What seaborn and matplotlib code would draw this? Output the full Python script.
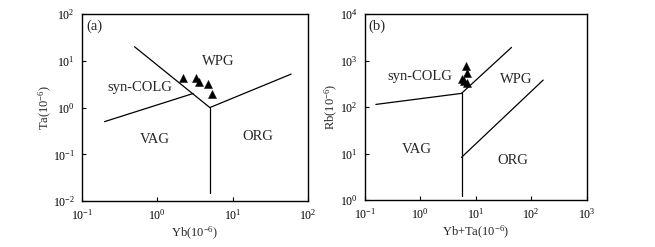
import matplotlib
matplotlib.use("Agg")
import matplotlib.pyplot as plt
import seaborn as sns
import numpy as np

sns.set_theme(style="white")
plt.rcParams['font.family'] = ['Liberation Serif', 'DejaVu Serif']
plt.rcParams['mathtext.fontset'] = 'custom'
plt.rcParams['mathtext.rm'] = 'Liberation Serif'
plt.rcParams['mathtext.it'] = 'Liberation Serif:italic'

# ---- Panel (a): Ta vs Yb ----
a_yb = [2.17, 3.27, 3.58, 4.76, 5.27]
a_ta = [4.2, 4.33, 3.56, 3.13, 1.92]
a_bound_wpg_x = [0.5, 5.0]
a_bound_wpg_y = [20.0, 1.0]
a_bound_vag_x = [0.2, 3.0]
a_bound_vag_y = [0.5, 2.0]
a_bound_org_x = [5.0, 60.0]
a_bound_org_y = [1.0, 5.2]
a_bound_vert_x = [5.0, 5.0]
a_bound_vert_y = [1.0, 0.0148]
a_labels = ["WPG", "syn-COLG", "VAG", "ORG"]
a_label_x = [6.4, 0.59, 0.93, 21.9]
a_label_y = [9.9, 2.7, 0.21, 0.245]
a_xticks = [0.1, 1, 10, 100]
a_xticklabels = [r"$10^{-1}$", r"$10^{0}$", r"$10^{1}$", r"$10^{2}$"]
a_yticks = [0.01, 0.1, 1, 10, 100]
a_yticklabels = [r"$10^{-2}$", r"$10^{-1}$", r"$10^{0}$", r"$10^{1}$", r"$10^{2}$"]

# ---- Panel (b): Rb vs Yb+Ta ----
b_ybta = [6.65, 7.03, 5.56, 6.12, 7.03]
b_rb = [773, 538, 400, 362, 324]
b_bound_vag_x = [0.158, 5.55]
b_bound_vag_y = [114, 197]
b_bound_vert_x = [5.55, 5.55]
b_bound_vert_y = [197, 1.22]
b_bound_wpg_x = [5.55, 44.3]
b_bound_wpg_y = [197, 1920]
b_bound_org_x = [5.55, 165]
b_bound_org_y = [8.3, 381]
b_labels = ["syn-COLG", "WPG", "VAG", "ORG"]
b_label_x = [0.98, 54.7, 0.86, 47.5]
b_label_y = [449, 394, 12.5, 7.0]
b_xticks = [0.1, 1, 10, 100, 1000]
b_xticklabels = [r"$10^{-1}$", r"$10^{0}$", r"$10^{1}$", r"$10^{2}$", r"$10^{3}$"]
b_yticks = [1, 10, 100, 1000, 10000]
b_yticklabels = [r"$10^{0}$", r"$10^{1}$", r"$10^{2}$", r"$10^{3}$", r"$10^{4}$"]

fig = plt.figure(figsize=(6.55, 2.47), dpi=100)
ax1 = fig.add_axes([0.125, 0.186, 0.345, 0.757])
ax2 = fig.add_axes([0.557, 0.190, 0.3385, 0.753])

LABEL_FS = 10.5
AXIS_FS = 9
TICK_FS = 8.5

def style(ax, xt, xtl, yt, ytl, xlim, ylim):
    ax.set_xscale('log')
    ax.set_yscale('log')
    ax.set_xlim(*xlim)
    ax.set_ylim(*ylim)
    ax.set_xticks(xt)
    ax.set_xticklabels(xtl)
    ax.set_yticks(yt)
    ax.set_yticklabels(ytl)
    ax.minorticks_off()
    ax.tick_params(direction='in', length=3, width=0.8, labelsize=TICK_FS, colors='black',
                   bottom=True, left=True, top=False, right=False, pad=5)
    for s in ax.spines.values():
        s.set_color('black')
        s.set_linewidth(1.0)
    ax.grid(False)

def seg(ax, x, y):
    sns.lineplot(x=x, y=y, ax=ax, sort=False, estimator=None, color='black', linewidth=0.9)

# Panel a
for xs, ys in [(a_bound_wpg_x, a_bound_wpg_y), (a_bound_vag_x, a_bound_vag_y),
               (a_bound_org_x, a_bound_org_y), (a_bound_vert_x, a_bound_vert_y)]:
    seg(ax1, xs, ys)
sns.scatterplot(x=a_yb, y=a_ta, ax=ax1, marker='^', color='black', s=34, edgecolor='black', linewidth=0.3)
for t, x, y in zip(a_labels, a_label_x, a_label_y):
    ax1.text(x, y, t, ha='center', va='center', fontsize=LABEL_FS)
ax1.text(0.055, 0.935, "(a)", transform=ax1.transAxes, ha='center', va='center', fontsize=LABEL_FS)
style(ax1, a_xticks, a_xticklabels, a_yticks, a_yticklabels, (0.1, 100), (0.01, 100))
ax1.set_xlabel(r"Yb(10$^{-6}$)", fontsize=AXIS_FS, labelpad=2)
ax1.set_ylabel(r"Ta(10$^{-6}$)", fontsize=AXIS_FS, labelpad=-1)

# Panel b
for xs, ys in [(b_bound_vag_x, b_bound_vag_y), (b_bound_vert_x, b_bound_vert_y),
               (b_bound_wpg_x, b_bound_wpg_y), (b_bound_org_x, b_bound_org_y)]:
    seg(ax2, xs, ys)
sns.scatterplot(x=b_ybta, y=b_rb, ax=ax2, marker='^', color='black', s=34, edgecolor='black', linewidth=0.3)
for t, x, y in zip(b_labels, b_label_x, b_label_y):
    ax2.text(x, y, t, ha='center', va='center', fontsize=LABEL_FS)
ax2.text(0.056, 0.935, "(b)", transform=ax2.transAxes, ha='center', va='center', fontsize=LABEL_FS)
style(ax2, b_xticks, b_xticklabels, b_yticks, b_yticklabels, (0.1, 1000), (1, 10000))
ax2.set_xlabel(r"Yb+Ta(10$^{-6}$)", fontsize=AXIS_FS, labelpad=2)
ax2.set_ylabel(r"Rb(10$^{-6}$)", fontsize=AXIS_FS, labelpad=0)

fig.savefig("out.png", dpi=100)
